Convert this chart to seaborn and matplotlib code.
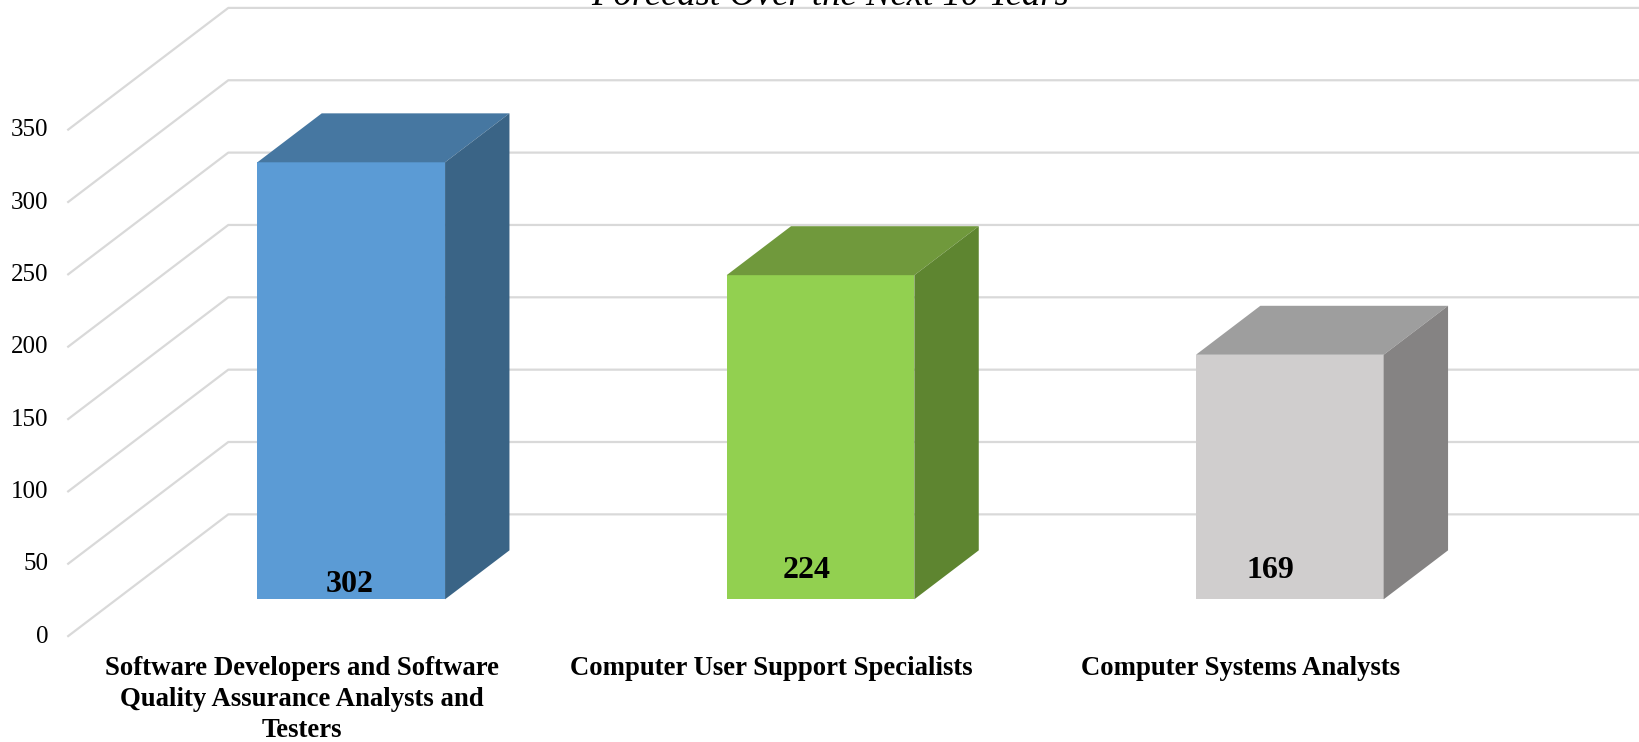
import matplotlib
matplotlib.use("Agg")
import matplotlib.pyplot as plt
from matplotlib.patches import Polygon
import pandas as pd
import seaborn as sns

# chart data
categories = ["Software Developers and Software\nQuality Assurance Analysts and\nTesters",
              "Computer User Support Specialists",
              "Computer Systems Analysts"]
values = [302, 224, 169]
y_ticks = [0, 50, 100, 150, 200, 250, 300, 350]
title = "Forecast Over the Next 10 Years"

front_colors = ["#5B9BD5", "#92D050", "#D0CECE"]
top_colors = ["#4677A1", "#70993C", "#9E9E9E"]
side_colors = ["#3A6486", "#5E8530", "#858383"]

df = pd.DataFrame({"job": categories, "openings": values})

# layout (pixels of the 1640x742 canvas)
W, H = 1640, 742
px_x = 469.3          # pixels per category step
px_y = 1.447          # pixels per value unit
x0_px, y0_px = 351.2, 599.3   # first bar front centre / bar base
dx, dy = 161 / px_x, 122.4 / px_y   # full depth of the 3D box
bar_depth = 0.4
front_shift = 0.306   # bars sit this far behind the front plane
wall_left = (67.3 - x0_px) / px_x
x_right = (W - x0_px) / px_x

sns.set_theme(style="white")
plt.rcParams["font.family"] = ["Liberation Serif", "DejaVu Serif"]

fig = plt.figure(figsize=(W / 100, H / 100), dpi=100)
ax = fig.add_axes([0, 0, 1, 1])

sns.barplot(data=df, x="job", y="openings", hue="job", palette=front_colors,
            saturation=1, width=0.4, errorbar=None, legend=False, ax=ax,
            zorder=3, linewidth=0)

ax.set_xlim(-x0_px / px_x, x_right)
ax.set_ylim(-(H - y0_px) / px_y, y0_px / px_y)
ax.axis("off")

# walls: side wall + back wall gridlines
for v in y_ticks:
    yf = v - front_shift * dy
    ax.plot([wall_left, wall_left + dx, x_right], [yf, yf + dy, yf + dy],
            color="#D9D9D9", lw=1.6, zorder=0.5, solid_capstyle="butt")
    ax.text(wall_left - 19 / px_x, yf, str(v), ha="right", va="center",
            fontsize=18, color="black")

# give the bars their top and side faces
bx, by = bar_depth * dx, bar_depth * dy
for i, bar in enumerate(ax.patches):
    x, w, h = bar.get_x(), bar.get_width(), bar.get_height()
    top = Polygon([(x, h), (x + w, h), (x + w + bx, h + by), (x + bx, h + by)],
                  closed=True, facecolor=top_colors[i], edgecolor="none", zorder=3)
    side = Polygon([(x + w, 0), (x + w + bx, by), (x + w + bx, h + by), (x + w, h)],
                   closed=True, facecolor=side_colors[i], edgecolor="none", zorder=3)
    ax.add_patch(top)
    ax.add_patch(side)

# value labels near the base (Excel puts them a bit unevenly)
label_nudge_x = [-2, -14, -19]
label_center_y = [584, 571, 570]
for i, bar in enumerate(ax.patches[:len(values)]):
    cx = bar.get_x() + bar.get_width() / 2 + label_nudge_x[i] / px_x
    ax.text(cx, (y0_px - label_center_y[i]) / px_y, str(values[i]),
            ha="center", va="center", fontsize=23, fontweight="bold", color="black", zorder=5)

# category labels on the front plane
for i, cat in enumerate(categories):
    ax.text(i - front_shift * dx, -(656 - y0_px) / px_y, cat, ha="center", va="top",
            fontsize=19.3, fontweight="bold", linespacing=1.32, color="black")

fig.text(830 / W, 1 - 5 / H, title, ha="center", va="baseline",
         fontsize=26.5, fontstyle="italic", color="black")

fig.savefig("out.png", dpi=100)
